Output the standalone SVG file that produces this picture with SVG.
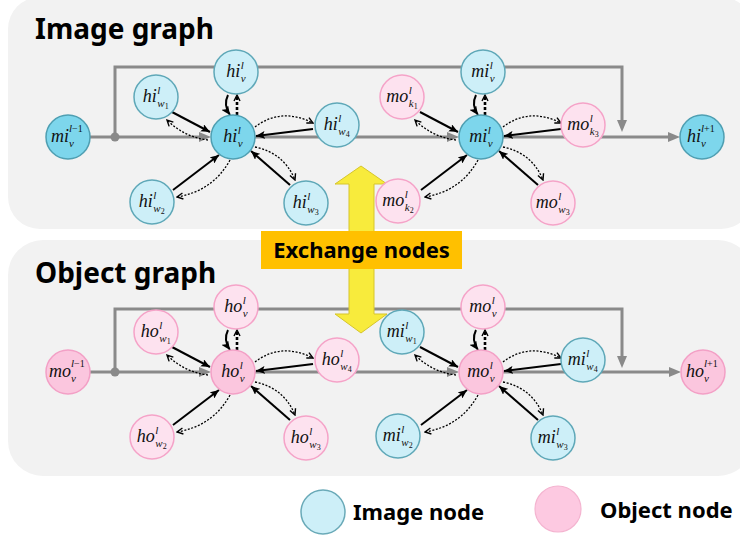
<svg xmlns="http://www.w3.org/2000/svg" width="740" height="544" viewBox="0 0 740 544">
<style>
.panel{fill:#f2f2f2}
.title{font-family:"Noto Sans","Open Sans",sans-serif;font-weight:bold;font-size:28px;fill:#000}
.leg{font-family:"Noto Sans","Open Sans",sans-serif;font-weight:bold;font-size:22px;fill:#000}
.gl{fill:none;stroke:#8a8a8a;stroke-width:3}
.sol{fill:none;stroke:#000;stroke-width:2;marker-end:url(#ah)}
.dot{fill:none;stroke:#000;stroke-width:1.3;stroke-dasharray:2 1.6;marker-end:url(#ch)}
.dotb{fill:none;stroke:#000;stroke-width:2.6;stroke-dasharray:3 2;marker-end:url(#ch)}
.nb{fill:#cdeff8;stroke:#5fa8b8;stroke-width:1.5}
.nB{fill:#7dd6ec;stroke:#4f9fb2;stroke-width:1.5}
.np{fill:#fde2ef;stroke:#f5a3c8;stroke-width:1.5}
.nP{fill:#fbc6de;stroke:#f3a0c6;stroke-width:1.5}
.m{font-family:"Liberation Serif","Times New Roman",serif;font-style:italic;font-size:18px;fill:#111}
.s{font-size:11px}
.d{font-size:8px;font-style:normal}
.u{font-size:10px;font-style:normal}
</style>
<defs>
<marker id="ah" viewBox="0 0 9 8" refX="9" refY="4" markerWidth="9" markerHeight="8" orient="auto" markerUnits="userSpaceOnUse"><path d="M0,0 L9,4 L0,8 L2,4 z" fill="#000"/></marker>
<marker id="ch" viewBox="0 0 8 8" refX="7" refY="4" markerWidth="8" markerHeight="8" orient="auto" markerUnits="userSpaceOnUse"><path d="M1,1 L7,4 L1,7" fill="none" stroke="#000" stroke-width="1.4"/></marker>
<marker id="gh" viewBox="0 0 12 10" refX="4" refY="5" markerWidth="12" markerHeight="10" orient="auto" markerUnits="userSpaceOnUse"><path d="M0,0 L12,5 L0,10 z" fill="#8a8a8a"/></marker>
</defs>
<rect width="740" height="544" fill="#fff"/>
<rect class="panel" x="8" y="-3" width="745" height="232" rx="32"/>
<rect class="panel" x="8" y="240" width="745" height="236" rx="35"/>
<text class="title" x="35" y="39">Image graph</text>
<text class="title" x="35" y="283">Object graph</text>

<g id="connectors">
  <g id="trunk-top">
    <path class="gl" d="M90,137 H203" marker-end="url(#gh)"/>
    <path class="gl" d="M255,137 H451" marker-end="url(#gh)"/>
    <path class="gl" d="M503,137 H672" marker-end="url(#gh)"/>
    <path class="gl" d="M115,137 V67 H622 V124" marker-end="url(#gh)"/>
    <circle cx="115" cy="137" r="4.5" fill="#8a8a8a"/>
  </g>
  <g id="trunk-bottom">
    <path class="gl" d="M90,372 H203" marker-end="url(#gh)"/>
    <path class="gl" d="M255,372 H451" marker-end="url(#gh)"/>
    <path class="gl" d="M503,372 H673" marker-end="url(#gh)"/>
    <path class="gl" d="M115,372 V309 H622 V360" marker-end="url(#gh)"/>
    <circle cx="115" cy="372" r="4.5" fill="#8a8a8a"/>
  </g>
  <g id="c-tl" transform="translate(233,137)">
    <path class="sol" d="M-61,-25 L-23,-5"/>
    <path class="dot" d="M-25,3 Q-49,0 -66,-17"/>
    <path class="sol" d="M-60,53 L-14,18"/>
    <path class="dot" d="M-3,23 Q-20,54 -56,60"/>
    <path class="sol" d="M57,48 L18,14"/>
    <path class="dot" d="M22,10 Q51,16 62,43"/>
    <path class="sol" d="M80,-8 L23,-1"/>
    <path class="dot" d="M22,-10 Q48,-30 80,-14"/>
    <path class="sol" d="M-5,-42 Q-10,-32 -3,-22"/>
    <path class="dotb" d="M4,-22 L4,-42"/>
  </g>
  <g id="c-tr" transform="translate(481,137)">
    <path class="sol" d="M-61,-25 L-23,-5"/>
    <path class="dot" d="M-25,3 Q-49,0 -66,-17"/>
    <path class="sol" d="M-60,53 L-14,18"/>
    <path class="dot" d="M-3,23 Q-20,54 -56,60"/>
    <path class="sol" d="M57,48 L18,14"/>
    <path class="dot" d="M22,10 Q51,16 62,43"/>
    <path class="sol" d="M80,-8 L23,-1"/>
    <path class="dot" d="M22,-10 Q48,-30 80,-14"/>
    <path class="sol" d="M-5,-42 Q-10,-32 -3,-22"/>
    <path class="dotb" d="M4,-22 L4,-42"/>
  </g>
  <g id="c-bl" transform="translate(233,372)">
    <path class="sol" d="M-61,-25 L-23,-5"/>
    <path class="dot" d="M-25,3 Q-49,0 -66,-17"/>
    <path class="sol" d="M-60,53 L-14,18"/>
    <path class="dot" d="M-3,23 Q-20,54 -56,60"/>
    <path class="sol" d="M57,48 L18,14"/>
    <path class="dot" d="M22,10 Q51,16 62,43"/>
    <path class="sol" d="M80,-8 L23,-1"/>
    <path class="dot" d="M22,-10 Q48,-30 80,-14"/>
    <path class="sol" d="M-5,-42 Q-10,-32 -3,-22"/>
    <path class="dotb" d="M4,-22 L4,-42"/>
  </g>
  <g id="c-br" transform="translate(481,372)">
    <path class="sol" d="M-61,-25 L-23,-5"/>
    <path class="dot" d="M-25,3 Q-49,0 -66,-17"/>
    <path class="sol" d="M-60,53 L-14,18"/>
    <path class="dot" d="M-3,23 Q-20,54 -56,60"/>
    <path class="sol" d="M57,48 L18,14"/>
    <path class="dot" d="M22,10 Q51,16 62,43"/>
    <path class="sol" d="M80,-8 L23,-1"/>
    <path class="dot" d="M22,-10 Q48,-30 80,-14"/>
    <path class="sol" d="M-5,-42 Q-10,-32 -3,-22"/>
    <path class="dotb" d="M4,-22 L4,-42"/>
  </g>
</g>

<g id="exchange-arrow">
  <path d="M361,166 L387,184 L374,184 L374,314 L387,314 L361,333 L335,314 L349,314 L349,184 L335,184 Z" fill="#f8eb3c" stroke="#d6c52a" stroke-width="1"/>
</g>

<g id="nodes">
  <g id="mi-prev"><circle class="nB" cx="68" cy="137" r="22"/><text class="m" x="51" y="142">mi<tspan class="s" x="69" y="132">l<tspan class="u">−1</tspan></tspan><tspan class="s" x="69" y="147">v</tspan></text></g>
  <g id="hi-top"><circle class="nb" cx="236" cy="72" r="22"/><text class="m" x="226.3" y="77">hi<tspan class="s" x="240.8" y="69">l</tspan><tspan class="s" x="240.8" y="81.5">v</tspan></text></g>
  <g id="hi-w1"><circle class="nb" cx="156" cy="97" r="22"/><text class="m" x="142.8" y="102">hi<tspan class="s" x="157.3" y="94">l</tspan><tspan class="s" x="157.3" y="106.5">w</tspan><tspan class="d" x="164.8" y="109">1</tspan></text></g>
  <g id="hi-c"><circle class="nB" cx="233" cy="137" r="22"/><text class="m" x="223.3" y="142">hi<tspan class="s" x="237.8" y="134">l</tspan><tspan class="s" x="237.8" y="146.5">v</tspan></text></g>
  <g id="hi-w4"><circle class="nb" cx="337" cy="125" r="22"/><text class="m" x="323.8" y="130">hi<tspan class="s" x="338.3" y="122">l</tspan><tspan class="s" x="338.3" y="134.5">w</tspan><tspan class="d" x="345.8" y="137">4</tspan></text></g>
  <g id="hi-w2"><circle class="nb" cx="152" cy="202" r="22"/><text class="m" x="138.8" y="207">hi<tspan class="s" x="153.3" y="199">l</tspan><tspan class="s" x="153.3" y="211.5">w</tspan><tspan class="d" x="160.8" y="214">2</tspan></text></g>
  <g id="hi-w3"><circle class="nb" cx="306" cy="203" r="22"/><text class="m" x="292.8" y="208">hi<tspan class="s" x="307.3" y="200">l</tspan><tspan class="s" x="307.3" y="212.5">w</tspan><tspan class="d" x="314.8" y="215">3</tspan></text></g>
  <g id="mi-top"><circle class="nb" cx="483" cy="72" r="22"/><text class="m" x="471.3" y="77">mi<tspan class="s" x="489.8" y="69">l</tspan><tspan class="s" x="489.8" y="81.5">v</tspan></text></g>
  <g id="mo-k1"><circle class="np" cx="402" cy="97" r="22"/><text class="m" x="386.2" y="102">mo<tspan class="s" x="408.7" y="94">l</tspan><tspan class="s" x="408.7" y="106.5">k</tspan><tspan class="d" x="413.8" y="109">1</tspan></text></g>
  <g id="mi-c"><circle class="nB" cx="481" cy="137" r="22"/><text class="m" x="469.3" y="142">mi<tspan class="s" x="487.8" y="134">l</tspan><tspan class="s" x="487.8" y="146.5">v</tspan></text></g>
  <g id="mo-k3"><circle class="np" cx="583" cy="125" r="22"/><text class="m" x="567.2" y="130">mo<tspan class="s" x="589.7" y="122">l</tspan><tspan class="s" x="589.7" y="134.5">k</tspan><tspan class="d" x="594.8" y="137">3</tspan></text></g>
  <g id="mo-k2"><circle class="np" cx="398" cy="201" r="22"/><text class="m" x="382.2" y="206">mo<tspan class="s" x="404.7" y="198">l</tspan><tspan class="s" x="404.7" y="210.5">k</tspan><tspan class="d" x="409.8" y="213">2</tspan></text></g>
  <g id="mo-w3"><circle class="np" cx="553" cy="203" r="22"/><text class="m" x="535.8" y="208">mo<tspan class="s" x="558.3" y="200">l</tspan><tspan class="s" x="558.3" y="212.5">w</tspan><tspan class="d" x="565.8" y="215">3</tspan></text></g>
  <g id="hi-next"><circle class="nB" cx="702" cy="137" r="22"/><text class="m" x="687" y="142">hi<tspan class="s" x="701" y="132">l<tspan class="u">+1</tspan></tspan><tspan class="s" x="701" y="147">v</tspan></text></g>

  <g id="mo-prev"><circle class="nP" cx="68" cy="372" r="22"/><text class="m" x="49" y="377">mo<tspan class="s" x="71" y="367">l<tspan class="u">−1</tspan></tspan><tspan class="s" x="71" y="382">v</tspan></text></g>
  <g id="ho-top"><circle class="np" cx="236" cy="307" r="22"/><text class="m" x="224.3" y="312">ho<tspan class="s" x="242.8" y="304">l</tspan><tspan class="s" x="242.8" y="316.5">v</tspan></text></g>
  <g id="ho-w1"><circle class="np" cx="156" cy="332" r="22"/><text class="m" x="140.8" y="337">ho<tspan class="s" x="159.3" y="329">l</tspan><tspan class="s" x="159.3" y="341.5">w</tspan><tspan class="d" x="166.8" y="344">1</tspan></text></g>
  <g id="ho-c"><circle class="nP" cx="233" cy="372" r="22"/><text class="m" x="221.3" y="377">ho<tspan class="s" x="239.8" y="369">l</tspan><tspan class="s" x="239.8" y="381.5">v</tspan></text></g>
  <g id="ho-w4"><circle class="np" cx="337" cy="360" r="22"/><text class="m" x="321.8" y="365">ho<tspan class="s" x="340.3" y="357">l</tspan><tspan class="s" x="340.3" y="369.5">w</tspan><tspan class="d" x="347.8" y="372">4</tspan></text></g>
  <g id="ho-w2"><circle class="np" cx="152" cy="437" r="22"/><text class="m" x="136.8" y="442">ho<tspan class="s" x="155.3" y="434">l</tspan><tspan class="s" x="155.3" y="446.5">w</tspan><tspan class="d" x="162.8" y="449">2</tspan></text></g>
  <g id="ho-w3"><circle class="np" cx="306" cy="438" r="22"/><text class="m" x="290.8" y="443">ho<tspan class="s" x="309.3" y="435">l</tspan><tspan class="s" x="309.3" y="447.5">w</tspan><tspan class="d" x="316.8" y="450">3</tspan></text></g>
  <g id="mo-top"><circle class="np" cx="483" cy="307" r="22"/><text class="m" x="469.3" y="312">mo<tspan class="s" x="491.8" y="304">l</tspan><tspan class="s" x="491.8" y="316.5">v</tspan></text></g>
  <g id="mi-w1"><circle class="nb" cx="402" cy="332" r="22"/><text class="m" x="386.8" y="337">mi<tspan class="s" x="405.3" y="329">l</tspan><tspan class="s" x="405.3" y="341.5">w</tspan><tspan class="d" x="412.8" y="344">1</tspan></text></g>
  <g id="mo-c"><circle class="nP" cx="481" cy="372" r="22"/><text class="m" x="467.3" y="377">mo<tspan class="s" x="489.8" y="369">l</tspan><tspan class="s" x="489.8" y="381.5">v</tspan></text></g>
  <g id="mi-w4"><circle class="nb" cx="583" cy="360" r="22"/><text class="m" x="567.8" y="365">mi<tspan class="s" x="586.3" y="357">l</tspan><tspan class="s" x="586.3" y="369.5">w</tspan><tspan class="d" x="593.8" y="372">4</tspan></text></g>
  <g id="mi-w2"><circle class="nb" cx="398" cy="436" r="22"/><text class="m" x="382.8" y="441">mi<tspan class="s" x="401.3" y="433">l</tspan><tspan class="s" x="401.3" y="445.5">w</tspan><tspan class="d" x="408.8" y="448">2</tspan></text></g>
  <g id="mi-w3"><circle class="nb" cx="553" cy="438" r="22"/><text class="m" x="537.8" y="443">mi<tspan class="s" x="556.3" y="435">l</tspan><tspan class="s" x="556.3" y="447.5">w</tspan><tspan class="d" x="563.8" y="450">3</tspan></text></g>
  <g id="ho-next"><circle class="nP" cx="703" cy="372" r="22"/><text class="m" x="686" y="377">ho<tspan class="s" x="704" y="367">l<tspan class="u">+1</tspan></tspan><tspan class="s" x="704" y="382">v</tspan></text></g>
</g>

<g id="exchange-label">
  <rect x="261" y="231" width="201" height="38" fill="#ffc000"/>
  <text class="leg" x="361.5" y="258" text-anchor="middle">Exchange nodes</text>
</g>

<g id="legend">
  <circle cx="323" cy="512" r="22" fill="#cdeff8" stroke="#6aaab8" stroke-width="1.5"/>
  <text class="leg" x="353" y="520">Image node</text>
  <circle cx="558" cy="509" r="23" fill="#fdc9e1" stroke="#f4b4d0" stroke-width="1.2"/>
  <text class="leg" x="600" y="518">Object node</text>
</g>
</svg>
